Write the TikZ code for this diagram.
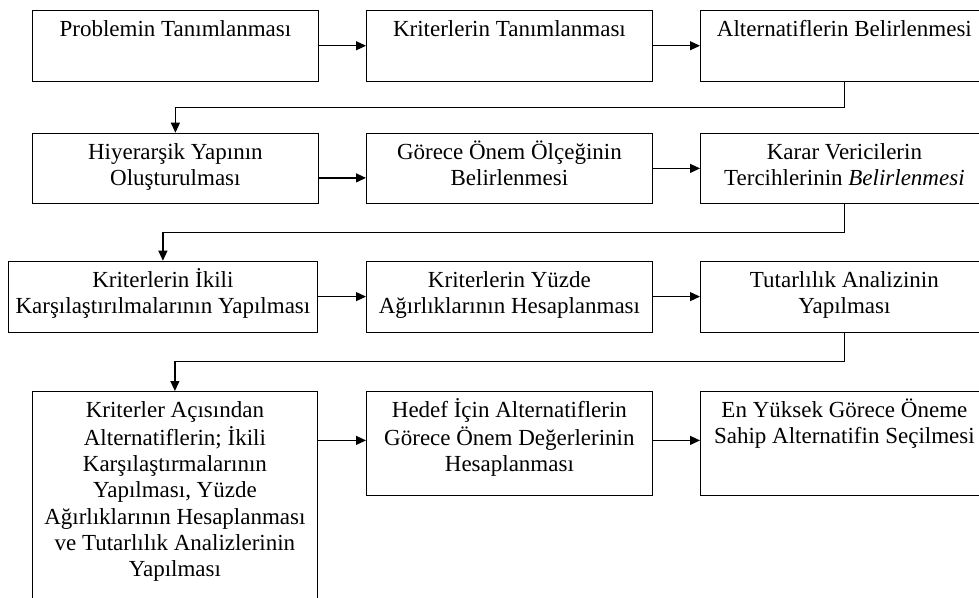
\documentclass[tikz,border=0pt]{standalone}
\usepackage{fontspec}
\setmainfont{Liberation Serif}
\usetikzlibrary{positioning,calc,arrows.meta}
\newcommand{\celltxt}[3]{\parbox[c][#2][t]{#1}{\centering\vspace*{7.5pt}\strut #3}}

\begin{document}
\begin{tikzpicture}[x=1pt,y=-1pt,
    stepbox/.style={draw,line width=0.8pt,anchor=north west,inner sep=0pt,
      font=\fontsize{23}{26.3}\selectfont},
    link/.style={line width=1.2pt,-{Triangle[length=10pt,width=9pt]}}]
\useasboundingbox (0,0) rectangle (979,597);
%Nodes
    \node[stepbox] (prob)  at (32,10)    {\celltxt{286pt}{70.7pt}{Problemin Tanımlanması}};
    \node[stepbox] (krit)  at (366,10)   {\celltxt{286pt}{70.7pt}{Kriterlerin Tanımlanması}};
    \node[stepbox] (alt)   at (700,10)   {\celltxt{288pt}{70.7pt}{Alternatiflerin Belirlenmesi}};
    \node[stepbox] (hiy)   at (32,132.7) {\celltxt{286pt}{70.6pt}{Hiyerarşik Yapının\\Oluşturulması}};
    \node[stepbox] (olc)   at (366,132.7){\celltxt{286pt}{70.6pt}{Görece Önem Ölçeğinin\\Belirlenmesi}};
    \node[stepbox] (karar) at (700,132.7){\celltxt{288pt}{70.6pt}{Karar Vericilerin\\Tercihlerinin \textit{Belirlenmesi}}};
    \node[stepbox] (ikili) at (7.7,260.7){\celltxt{309.6pt}{71pt}{Kriterlerin İkili\\Karşılaştırılmalarının Yapılması}};
    \node[stepbox] (yuzde) at (366,260.7){\celltxt{286pt}{71pt}{Kriterlerin Yüzde\\Ağırlıklarının Hesaplanması}};
    \node[stepbox] (tutar) at (700,260.7){\celltxt{288pt}{71pt}{Tutarlılık Analizinin\\Yapılması}};
    \node[stepbox] (altik) at (31.7,391) {\celltxt{285.6pt}{230pt}{Kriterler Açısından\\Alternatiflerin; İkili\\Karşılaştırmalarının\\Yapılması, Yüzde\\Ağırlıklarının Hesaplanması\\ve Tutarlılık Analizlerinin\\Yapılması}};
    \node[stepbox] (hedef) at (366,391)  {\celltxt{286pt}{104pt}{Hedef İçin Alternatiflerin\\Görece Önem Değerlerinin\\Hesaplanması}};
    \node[stepbox] (secim) at (700,391)  {\celltxt{288pt}{104pt}{En Yüksek Görece Öneme\\Sahip Alternatifin Seçilmesi}};
%Lines
    \draw[link] (prob.east) -- (krit.west);
    \draw[link] (krit.east) -- (alt.west);
    \draw[link] (alt.south) |- ($(alt.south)!.5!(hiy.north)$) -| (hiy.north);
    \draw[link] ([yshift=-9.5pt]hiy.east) -- ([yshift=-9.5pt]olc.west);
    \draw[link] (olc.east) -- (karar.west);
    \draw[link] (karar.south) |- ($(karar.south)!.5!(ikili.north)$) -| (ikili.north);
    \draw[link] (ikili.east) -- (yuzde.west);
    \draw[link] (yuzde.east) -- (tutar.west);
    \draw[link] (tutar.south) |- ($(tutar.south)!.5!(altik.north)$) -| (altik.north);
    \draw[link] ([yshift=3pt]hedef.west -| altik.east) -- ([yshift=3pt]hedef.west);
    \draw[link] ([yshift=3pt]hedef.east) -- ([yshift=3pt]secim.west);
\end{tikzpicture}
\end{document}
